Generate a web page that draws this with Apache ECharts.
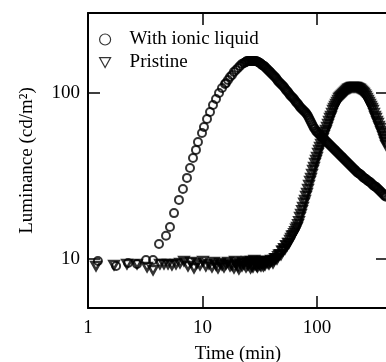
<!DOCTYPE html>
<html>
<head>
<meta charset="utf-8">
<script src="https://cdn.jsdelivr.net/npm/echarts@6/dist/echarts.min.js"></script>
<style>
  html, body { margin: 0; padding: 0; background: #fff; }
  #chart { width: 386px; height: 362px; }
</style>
</head>
<body>
<div id="chart"></div>
<script>
// time (min) / luminance (cd/m2)
const ionicTime = [
  1.22, 1.76, 2.24, 2.68, 3.21, 3.70, 4.17, 4.80, 5.20, 5.64, 6.23, 6.75, 7.32, 7.78, 8.26,
  8.77, 9.13, 9.90, 10.3, 10.95, 11.63, 12.35, 13.12, 13.94, 14.80, 15.72,
  16.04, 16.70, 17.39, 18.10, 18.84, 19.61, 20.42, 21.26, 22.13, 23.04, 23.99, 24.97,
  26.00, 27.06, 28.17, 29.33, 30.53, 31.78, 33.09, 34.45, 35.86, 37.33, 38.87, 40.46,
  42.12, 43.85, 45.65, 47.53, 49.47, 51.50, 53.62, 55.82, 58.11, 60.49, 62.97, 65.56,
  68.25, 71.05, 73.96, 77.00, 80.16, 83.45, 85.14, 86.87, 88.64, 90.44, 92.28, 94.15,
  96.05, 98.00, 102.0, 106.2, 110.6, 115.1, 119.8, 124.8, 129.9, 135.2, 140.8, 146.5,
  152.6, 158.8, 165.3, 172.1, 179.2, 186.5, 194.2, 202.1, 210.4, 219.1, 228.1, 237.4,
  247.1, 257.2, 267.8, 278.8, 290.3, 302.2, 314.6, 327.5, 340.9, 354.9, 369.5, 384.6, 400.4
];
const ionicLum = [
  9.73, 9.08, 9.46, 9.33, 9.86, 9.86, 12.3, 13.8, 15.6, 18.9, 22.7, 26.4, 30.8, 35.3, 40.6,
  45.4, 50.7, 57.4, 62.4, 69.7, 76.8, 84.7, 92.0, 100, 107.2, 113.2,
  114.8, 119.7, 124.8, 128.3, 133.9, 137.6, 141.5, 145.5, 149.6, 151.7, 153.8, 156.0,
  156.0, 156.0, 156.0, 156.0, 153.8, 151.7, 147.6, 145.5, 141.5, 137.6, 133.9, 130.0,
  126.5, 123.0, 118.1, 114.8, 111.7, 108.7, 104.3, 101.4, 97.3, 94.6, 92.0, 88.3,
  85.8, 82.3, 80.1, 77.9, 75.8, 72.7, 70.7, 68.7, 66.8, 65.0, 63.2, 61.5,
  60.6, 59.0, 57.4, 55.8, 54.3, 52.8, 51.4, 50.0, 48.6, 47.3, 46.0, 44.7,
  43.5, 42.3, 41.2, 40.0, 38.9, 37.9, 36.8, 35.8, 34.8, 33.9, 33.0, 32.5,
  31.6, 30.8, 30.3, 29.5, 29.1, 28.3, 27.5, 27.2, 26.4, 25.7, 25.0, 24.3, 23.7
];
// extra readings in the dense stretch after the peak
const ionicTimeDense = [
  23.51, 24.48, 25.48, 26.53, 27.61, 28.75, 29.93, 31.15, 32.43, 33.76, 35.15, 36.59,
  38.09, 39.66, 41.28, 42.98, 44.74, 46.58, 48.49, 50.48, 52.55, 54.71, 56.95, 59.29,
  61.72, 64.25, 66.89, 69.64, 72.49, 75.47, 78.57, 81.79, 99.99, 104.1, 108.4, 112.8,
  117.4, 122.3, 127.3, 132.5, 138.0, 143.6, 149.5, 155.7, 162.0, 168.7, 175.6, 182.8,
  190.3, 198.1, 206.2, 214.7, 223.5, 232.7, 242.2, 252.1, 262.5, 273.3, 284.5, 296.2,
  308.3, 321.0, 334.2, 347.8, 362.2, 377.0, 392.5
];
const ionicLumDense = [
  152.7, 156.0, 156.0, 156.0, 156.0, 156.0, 154.9, 152.7, 149.6, 146.5, 143.5, 139.6,
  135.8, 132.0, 128.3, 124.8, 120.5, 116.4, 113.2, 110.2, 106.4, 102.8, 99.3, 95.9,
  93.3, 90.1, 87.0, 84.1, 81.2, 79.0, 76.8, 74.2, 58.2, 56.6, 55.0, 53.5,
  52.1, 50.7, 49.3, 47.9, 46.6, 45.4, 44.1, 42.9, 41.7, 40.6, 39.5, 38.4,
  37.3, 36.3, 35.3, 34.4, 33.4, 32.7, 32.1, 31.2, 30.5, 29.9, 29.3, 28.7,
  27.9, 27.3, 26.8, 26.1, 25.4, 24.7, 24.0
];

const pristineTime = [
  1.175, 1.687, 2.19, 2.68, 3.28, 3.70, 4.25, 4.61, 5.00, 5.41, 5.87, 6.36, 6.89, 7.47,
  7.94, 8.43, 8.95, 9.51, 10.1, 10.7, 11.4, 12.1, 12.6, 13.12, 13.66, 14.22, 14.80, 15.41,
  16.04, 16.70, 17.39, 18.10, 18.84, 19.61, 20.42, 21.26, 22.13, 23.04, 23.99, 24.97,
  26.00, 26.53, 27.06, 27.61, 28.17, 28.75, 29.33, 29.93, 30.53, 31.15, 31.78, 32.43,
  33.09, 33.76, 34.45, 35.15, 35.86, 36.59, 37.33, 38.09, 38.87, 39.66, 40.46, 41.28,
  42.12, 42.98, 43.85, 44.74, 45.65, 46.58, 47.53, 48.49, 49.47, 50.48, 51.50, 52.55,
  53.62, 54.71, 55.82, 56.95, 58.11, 59.29, 60.49, 61.72, 62.97, 64.25, 65.56, 66.89,
  68.25, 69.64, 71.05, 72.49, 73.96, 75.47, 77.00, 78.57, 80.16, 81.79, 83.45, 85.14,
  86.87, 88.64, 90.44, 92.28, 94.15, 96.05, 98.00, 99.99, 102.0, 104.1, 106.2, 108.4,
  110.6, 112.8, 115.1, 117.4, 119.8, 122.3, 124.8, 127.3, 129.9, 132.5, 135.2, 138.0,
  140.8, 143.6, 146.5, 149.5, 152.6, 155.7, 158.8, 165.3, 172.1, 179.2, 186.5, 194.2,
  202.1, 210.4, 219.1, 228.1, 237.4, 247.1, 257.2, 267.8, 278.8, 284.5, 290.3, 296.2,
  302.2, 308.3, 314.6, 321.0, 327.5, 334.2, 340.9, 347.8, 354.9, 362.2, 369.5, 377.0,
  384.6, 392.5, 400.4
];
const pristineLum = [
  9.08, 9.20, 9.33, 9.33, 8.95, 8.59, 9.33, 9.33, 9.33, 9.20, 9.33, 9.46, 9.73, 9.08,
  9.59, 8.83, 9.46, 9.20, 9.73, 9.08, 9.33, 8.95, 9.59, 9.20, 8.83, 9.46, 9.20, 8.95,
  9.33, 9.59, 9.08, 9.20, 8.83, 9.33, 9.08, 9.46, 9.08, 9.33, 8.95, 9.20,
  9.46, 9.73, 9.08, 8.95, 9.33, 9.59, 9.20, 9.08, 9.46, 9.59, 9.20, 9.08,
  9.46, 9.73, 9.33, 9.20, 9.59, 9.73, 9.46, 9.33, 9.59, 9.86, 9.73, 9.46,
  9.86, 10.1, 10.1, 10.0, 10.4, 10.6, 10.7, 10.6, 11.2, 11.2, 11.6, 11.5,
  12.1, 12.0, 12.5, 12.5, 13.0, 13.4, 13.8, 13.9, 14.3, 14.7, 15.2, 15.6,
  16.2, 16.9, 17.9, 18.7, 19.7, 20.6, 21.8, 22.7, 24.0, 25.0, 26.4, 27.9,
  29.5, 30.8, 32.5, 34.4, 35.8, 37.9, 39.5, 41.2, 43.5, 45.4, 47.3, 49.3,
  51.4, 53.5, 55.8, 58.2, 59.8, 62.4, 65.0, 67.8, 70.7, 72.7, 75.8, 79.0,
  81.2, 83.5, 85.8, 88.3, 90.8, 93.3, 94.6, 97.3, 100, 102.8, 105.7, 107.2,
  108.7, 108.7, 108.7, 107.2, 105.7, 102.8, 100, 95.9, 90.8, 88.3, 85.8, 83.5,
  81.2, 79.0, 75.8, 72.7, 70.7, 67.8, 65.9, 63.2, 61.5, 59.0, 57.4, 55.0,
  52.8, 50.7, 48.6
];
// extra readings around the pristine peak and in the flat stretch
const pristineTimeDense = [
  162.0, 168.7, 175.6, 182.8, 190.3, 198.1, 206.2, 214.7, 223.5, 232.7, 242.2, 252.1,
  262.5, 273.3, 19.2, 20.8, 22.6, 24.5, 26.3, 28.4, 30.2, 32.0, 34.0
];
const pristineLumDense = [
  95.9, 98.6, 101.4, 104.3, 106.4, 107.9, 108.7, 108.7, 107.9, 106.4, 104.3, 101.4,
  97.9, 93.3, 9.73, 8.71, 9.59, 9.73, 8.83, 9.86, 8.95, 9.73, 9.08
];

const ionicData = ionicTime.concat(ionicTimeDense).map((t, i) =>
  [t, i < ionicTime.length ? ionicLum[i] : ionicLumDense[i - ionicTime.length]]);
const pristineData = pristineTime.concat(pristineTimeDense).map((t, i) =>
  [t, i < pristineTime.length ? pristineLum[i] : pristineLumDense[i - pristineTime.length]]);

const font = 'Liberation Serif';
const downTriangle = 'path://M0,0 L10,0 L5,9 Z';

// only label the decades
function decadeLabel(v) {
  const e = Math.log10(v);
  return Math.abs(e - Math.round(e)) < 1e-6 ? String(Math.round(Math.pow(10, Math.round(e)))) : '';
}

const chart = echarts.init(document.getElementById('chart'));

const axisCommon = {
  axisLine: { lineStyle: { color: '#000', width: 2 } },
  axisTick: { inside: true, length: 12, lineStyle: { color: '#000', width: 1.5 } },
  splitLine: { show: false },
  minorTick: { show: false }
};

chart.setOption({
  animation: false,
  backgroundColor: '#fff',
  grid: { left: 88, top: 13, width: 300, height: 295, outerBoundsMode: 'none', containLabel: false },
  legend: {
    orient: 'vertical',
    left: 94,
    top: 25,
    itemWidth: 11,
    itemHeight: 11,
    itemGap: 4,
    itemStyle: { borderWidth: 1.2 },
    textStyle: { fontFamily: font, fontSize: 19, color: '#000', padding: [0, 0, 0, 14] },
    data: ['With ionic liquid', 'Pristine']
  },
  xAxis: [
    {
      type: 'log',
      logBase: 10,
      min: 1,
      max: 417,
      name: 'Time (min)',
      nameLocation: 'middle',
      nameGap: 37,
      nameTextStyle: { fontFamily: font, fontSize: 19, color: '#000' },
      axisLabel: { fontFamily: font, fontSize: 19, color: '#000', margin: 11, formatter: decadeLabel },
      ...axisCommon
    },
    {
      type: 'log',
      logBase: 10,
      min: 1,
      max: 417,
      position: 'top',
      axisLabel: { show: false },
      ...axisCommon
    }
  ],
  yAxis: [
    {
      type: 'log',
      logBase: 10,
      min: 5.07,
      max: 303,
      name: 'Luminance (cd/m²)',
      nameLocation: 'middle',
      nameGap: 51,
      nameTextStyle: { fontFamily: font, fontSize: 19, color: '#000' },
      axisLabel: { fontFamily: font, fontSize: 19, color: '#000', margin: 8, formatter: decadeLabel },
      ...axisCommon
    },
    {
      type: 'log',
      logBase: 10,
      min: 5.07,
      max: 303,
      position: 'right',
      axisLabel: { show: false },
      ...axisCommon
    }
  ],
  series: [
    {
      name: 'With ionic liquid',
      type: 'scatter',
      data: ionicData,
      symbol: 'circle',
      symbolSize: 8,
      itemStyle: { color: 'rgba(0,0,0,0)', borderColor: '#000', borderWidth: 2 }
    },
    {
      name: 'Pristine',
      type: 'scatter',
      data: pristineData,
      symbol: downTriangle,
      symbolSize: [9, 8],
      itemStyle: { color: 'rgba(0,0,0,0)', borderColor: '#000', borderWidth: 2.6 }
    }
  ]
});
</script>
</body>
</html>
